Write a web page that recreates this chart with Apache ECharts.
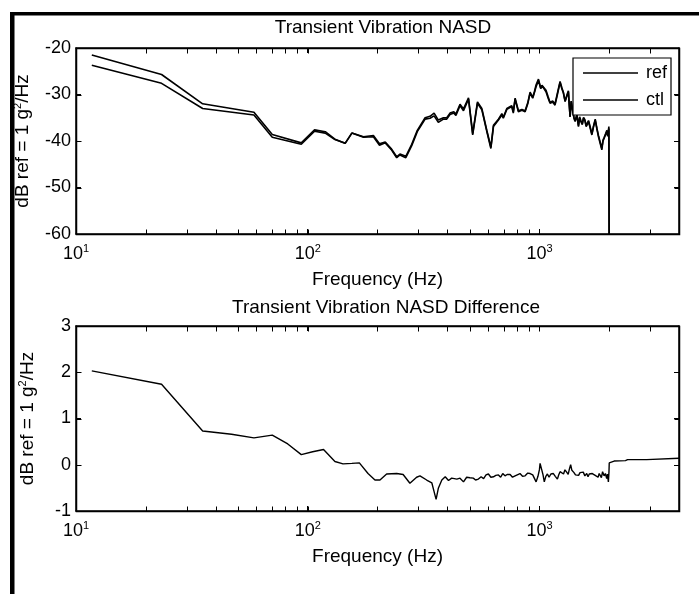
<!DOCTYPE html>
<html><head><meta charset="utf-8">
<script src="https://cdn.jsdelivr.net/npm/echarts@6/dist/echarts.min.js"></script>
<style>html,body{margin:0;padding:0;background:#fff}#c{width:699px;height:594px}</style>
</head><body><div id="c"></div>
<script>
// ---- data ----
const freqNASD = [11.7, 23.4, 35.2, 58.6, 70.3, 93.8, 107, 119, 131, 145, 155, 174, 192, 204, 216, 229, 242, 250, 265, 281, 297, 321, 337, 351, 366, 385, 398, 411, 427, 436, 454, 470, 494, 515, 540, 564, 593, 617, 633, 665, 688, 698, 723, 759, 771, 785, 811, 840, 867, 890, 911, 935, 952, 967, 990, 1013, 1025, 1040, 1067, 1090, 1111, 1140, 1167, 1195, 1227, 1250, 1268, 1290, 1302, 1320, 1333, 1345, 1356, 1370, 1390, 1410, 1425, 1450, 1473, 1490, 1508, 1530, 1549, 1570, 1590, 1610, 1628, 1655, 1683, 1710, 1740, 1770, 1797, 1830, 1858, 1880, 1902, 1930, 1953, 1970, 1993, 2005];
const refNASD = [-21.5, -25.7, -32.0, -33.8, -38.6, -40.4, -37.6, -38.0, -39.6, -40.5, -38.3, -39.2, -39.1, -40.9, -40.4, -41.8, -43.6, -43.0, -43.6, -41.0, -38.0, -35.3, -35.1, -34.6, -36.0, -35.3, -35.3, -34.3, -34.0, -34.5, -32.4, -33.5, -31.0, -38.7, -31.9, -33.3, -38.0, -41.6, -36.9, -35.5, -34.4, -35.1, -33.2, -32.6, -34.0, -31.0, -33.7, -33.4, -33.7, -32.0, -29.7, -30.8, -29.5, -28.3, -27.0, -28.7, -28.1, -28.0, -29.4, -30.8, -31.9, -31.6, -32.3, -30.0, -27.4, -28.8, -29.7, -31.5, -31.9, -30.0, -29.4, -32.5, -34.8, -31.5, -33.5, -35.2, -35.8, -34.5, -36.9, -35.0, -35.8, -36.5, -35.1, -35.6, -36.9, -36.4, -35.8, -37.2, -38.7, -37.0, -35.5, -37.5, -39.1, -38.8, -41.9, -40.0, -39.4, -38.6, -38.0, -39.0, -37.3, -100];
const ctlNASD = [-23.7, -27.6, -33.0, -34.4, -39.2, -40.7, -37.9, -38.3, -39.7, -40.5, -38.3, -39.1, -38.8, -40.6, -40.2, -41.6, -43.4, -42.8, -43.3, -40.7, -37.7, -35.0, -34.7, -34.0, -35.5, -35.0, -35.0, -34.0, -33.7, -34.2, -32.1, -33.1, -30.7, -38.4, -31.6, -33.0, -37.8, -41.3, -36.6, -35.3, -34.1, -34.9, -33.0, -32.4, -33.7, -30.8, -33.5, -33.2, -33.5, -31.8, -29.5, -30.6, -29.3, -27.9, -26.7, -28.7, -28.0, -27.7, -29.1, -30.5, -31.7, -31.4, -32.0, -29.7, -27.2, -28.6, -29.5, -31.4, -31.7, -29.8, -29.2, -32.4, -34.8, -31.4, -33.3, -35.0, -35.6, -34.3, -36.7, -34.8, -35.6, -36.3, -34.9, -35.4, -36.7, -36.1, -35.6, -37.0, -38.5, -36.8, -35.3, -37.3, -38.8, -38.6, -41.6, -39.8, -39.2, -38.4, -37.7, -38.8, -36.9, -100];
const freqDiff = [11.7, 23.4, 35.2, 46.9, 58.6, 70.3, 82, 93.8, 105, 117, 131, 142, 155, 167, 182, 195, 205, 219, 242, 258, 276, 295, 305, 326, 343, 348, 358, 366, 379, 392, 405, 418, 440, 454, 470, 485, 501, 518, 530, 545, 560, 574, 588, 602, 617, 633, 648, 665, 680, 694, 710, 725, 747, 765, 785, 800, 824, 845, 867, 890, 911, 935, 950, 967, 985, 1000, 1006, 1023, 1036, 1049, 1065, 1082, 1100, 1120, 1148, 1170, 1195, 1210, 1227, 1250, 1270, 1288, 1310, 1330, 1345, 1363, 1380, 1409, 1430, 1450, 1475, 1496, 1520, 1545, 1570, 1599, 1620, 1640, 1665, 1690, 1713, 1740, 1769, 1790, 1810, 1826, 1850, 1872, 1900, 1925, 1950, 1965, 1983, 1995, 2000, 2020, 2100, 2350, 2400, 2900, 2950, 4000];
const diffNASD = [2.03, 1.74, 0.73, 0.66, 0.58, 0.64, 0.45, 0.22, 0.28, 0.33, 0.07, 0.02, 0.03, 0.04, -0.19, -0.33, -0.33, -0.20, -0.19, -0.21, -0.40, -0.27, -0.24, -0.33, -0.39, -0.51, -0.75, -0.51, -0.33, -0.26, -0.34, -0.29, -0.31, -0.29, -0.37, -0.27, -0.28, -0.29, -0.33, -0.31, -0.26, -0.30, -0.22, -0.20, -0.27, -0.26, -0.23, -0.22, -0.27, -0.19, -0.24, -0.21, -0.21, -0.27, -0.24, -0.20, -0.19, -0.25, -0.24, -0.18, -0.19, -0.22, -0.20, -0.37, -0.25, -0.10, 0.03, -0.11, -0.22, -0.37, -0.25, -0.20, -0.27, -0.20, -0.19, -0.25, -0.31, -0.22, -0.15, -0.18, -0.20, -0.11, -0.16, -0.21, -0.10, 0.00, -0.12, -0.17, -0.22, -0.18, -0.23, -0.17, -0.21, -0.16, -0.24, -0.19, -0.26, -0.20, -0.24, -0.19, -0.17, -0.23, -0.22, -0.27, -0.19, -0.15, -0.28, -0.15, -0.24, -0.19, -0.30, -0.20, -0.37, -0.15, 0.04, 0.07, 0.08, 0.09, 0.11, 0.11, 0.14, 0.14];
const seriesNames = ['ref', 'ctl'];
const titles = ['Transient Vibration NASD', 'Transient Vibration NASD Difference'];
const xName = 'Frequency (Hz)';
const yName = 'dB ref = 1 g{sup|2}/Hz';
const freqRange = [10, 4000];
const topRange = [-60, -20, 10];   // min, max, interval
const botRange = [-1, 3, 1];
const tickMultipliers = [1, 2, 3, 4, 5, 6, 7, 8, 9];
const decades = [10, 100, 1000];

// ---- chart ----
const FONT = '"Liberation Sans", Arial, Helvetica, sans-serif';
const FS = 18;
const FS_NAME = 19;
const BOX_W = 1.5;
const chart = echarts.init(document.getElementById('c'), null, {renderer: 'canvas'});

function pow10Label(v) {
  const e = Math.round(Math.log10(v));
  if (Math.abs(Math.pow(10, e) - v) > 1e-6 * v) return '';
  return '10{sup|' + e + '}';
}
const supRich = {sup: {fontSize: 11, fontFamily: FONT, color: '#000', verticalAlign: 'top', lineHeight: 6}};

function xAxes(gi) {
  const common = {
    type: 'log', logBase: 10, gridIndex: gi, min: freqRange[0], max: freqRange[1],
    axisLine: {show: true, onZero: false, lineStyle: {color: '#000', width: BOX_W}},
    axisTick: {show: true, inside: true, length: 5, lineStyle: {color: '#000', width: 1}},
    splitLine: {show: false}, minorTick: {show: false}, minorSplitLine: {show: false}
  };
  return [
    Object.assign({}, common, {
      position: 'bottom',
      axisLabel: {show: true, margin: 9, color: '#000', fontSize: FS, fontFamily: FONT, lineHeight: 22,
        formatter: pow10Label, rich: supRich, showMinLabel: true, showMaxLabel: true},
      name: xName, nameLocation: 'middle', nameGap: 36,
      nameTextStyle: {color: '#000', fontSize: FS_NAME, fontFamily: FONT}
    }),
    Object.assign({}, common, {position: 'top', axisLabel: {show: false}})
  ];
}
function yAxes(gi, r) {
  const common = {
    type: 'value', gridIndex: gi, min: r[0], max: r[1], interval: r[2],
    axisLine: {show: true, onZero: false, lineStyle: {color: '#000', width: BOX_W}},
    axisTick: {show: true, inside: true, length: 5, lineStyle: {color: '#000', width: 1}},
    splitLine: {show: false}
  };
  return [
    Object.assign({}, common, {
      position: 'left',
      axisLabel: {show: true, margin: 5, color: '#000', fontSize: FS, fontFamily: FONT},
      name: yName, nameLocation: 'middle', nameGap: 37,
      nameTextStyle: {color: '#000', fontSize: FS_NAME, fontFamily: FONT, lineHeight: 22,
        rich: {sup: {fontSize: 11, fontFamily: FONT, color: '#000', verticalAlign: 'top', lineHeight: 6}}}
    }),
    Object.assign({}, common, {position: 'right', axisLabel: {show: false}})
  ];
}

const lineStyle = {color: '#000', width: 1.6};
const option = {
  animation: false,
  backgroundColor: '#fff',
  color: ['#000', '#000', '#000'],
  title: [
    {text: titles[0], left: 383, top: 18, textAlign: 'center', padding: 0,
     textStyle: {color: '#000', fontSize: FS_NAME, fontWeight: 'normal', fontFamily: FONT}},
    {text: titles[1], left: 386, top: 298, textAlign: 'center', padding: 0,
     textStyle: {color: '#000', fontSize: FS_NAME, fontWeight: 'normal', fontFamily: FONT}}
  ],
  grid: [
    {left: 76, right: 20, top: 48, height: 186},
    {left: 76, right: 20, top: 326, height: 185}
  ],
  xAxis: xAxes(0).concat(xAxes(1)),
  yAxis: yAxes(0, topRange).concat(yAxes(1, botRange)),
  legend: {
    data: seriesNames, orient: 'vertical', left: 573, top: 58,
    padding: [6, 4, 6, 10], itemGap: 9, itemWidth: 55, itemHeight: 1.5, icon: 'rect',
    borderColor: '#000', borderWidth: 1.2, backgroundColor: '#fff',
    textStyle: {color: '#000', fontSize: FS, fontFamily: FONT, lineHeight: 18, padding: [0, 0, 0, 3]},
    selectedMode: false, z: 10
  },
  series: [
    {name: seriesNames[0], type: 'line', xAxisIndex: 0, yAxisIndex: 0, symbol: 'none', showSymbol: false,
     data: freqNASD.map((f, i) => [f, refNASD[i]]), lineStyle: lineStyle, clip: true},
    {name: seriesNames[1], type: 'line', xAxisIndex: 0, yAxisIndex: 0, symbol: 'none', showSymbol: false,
     data: freqNASD.map((f, i) => [f, ctlNASD[i]]), lineStyle: lineStyle, clip: true},
    {name: 'diff', type: 'line', xAxisIndex: 2, yAxisIndex: 2, symbol: 'none', showSymbol: false,
     data: freqDiff.map((f, i) => [f, diffNASD[i]]), lineStyle: {color: '#000', width: 1.4}, clip: true}
  ]
};
chart.setOption(option);

// box outline and log ticks (1..9 per decade) on bottom and top edges, positioned through the axis scales
const els = [
  {type: 'rect', shape: {x: 10, y: 12, width: 689, height: 3.5}, style: {fill: '#000'}, z: 100},
  {type: 'rect', shape: {x: 10, y: 12, width: 4.5, height: 582}, style: {fill: '#000'}, z: 100}
];
const stroke = {stroke: '#000', lineWidth: 1};
[[0, topRange], [1, botRange]].forEach(([g, r]) => {
  const xi = g * 2, yi = g * 2;
  const yb = Math.round(chart.convertToPixel({yAxisIndex: yi}, r[0])) + 0.5;
  const yt = Math.round(chart.convertToPixel({yAxisIndex: yi}, r[1])) + 0.5;
  const xl = Math.round(chart.convertToPixel({xAxisIndex: xi}, freqRange[0])) + 0.5;
  const xr = Math.round(chart.convertToPixel({xAxisIndex: xi}, freqRange[1])) + 0.5;
  els.push({type: 'rect', shape: {x: xl, y: yt, width: xr - xl, height: yb - yt},
            style: {fill: null, stroke: '#000', lineWidth: BOX_W}, z: 60, silent: true});
  decades.forEach(d => tickMultipliers.forEach(m => {
    const f = d * m;
    if (f <= freqRange[0] || f >= freqRange[1]) return;
    const x = Math.round(chart.convertToPixel({xAxisIndex: xi}, f)) + 0.5;
    els.push({type: 'line', shape: {x1: x, y1: yb, x2: x, y2: yb - 5}, style: stroke, z: 60});
    els.push({type: 'line', shape: {x1: x, y1: yt, x2: x, y2: yt + 5}, style: stroke, z: 60});
  }));
  for (let v = r[0] + r[2]; v < r[1]; v += r[2]) {
    const y = Math.round(chart.convertToPixel({yAxisIndex: yi}, v)) + 0.5;
    els.push({type: 'line', shape: {x1: xr, y1: y, x2: xr - 5, y2: y}, style: stroke, z: 60});
    els.push({type: 'line', shape: {x1: xl, y1: y, x2: xl + 5, y2: y}, style: stroke, z: 60});
  }
});
chart.setOption({graphic: {elements: els}});
</script>
</body></html>
